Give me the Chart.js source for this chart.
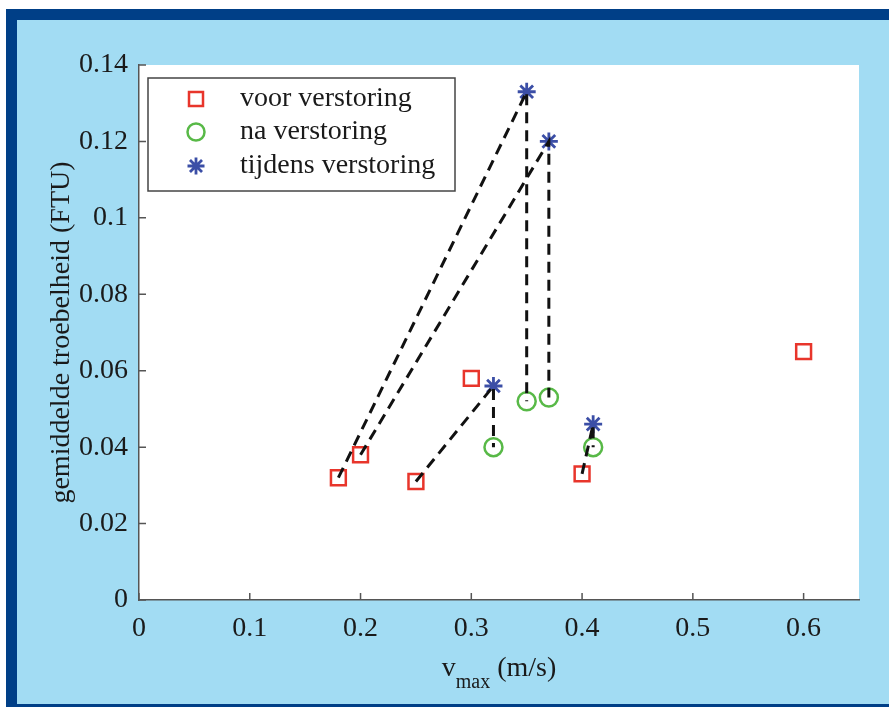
<!DOCTYPE html>
<html>
<head>
<meta charset="utf-8">
<script src="https://cdn.jsdelivr.net/npm/chart.js@4"></script>
<style>
  html, body { margin: 0; padding: 0; background: #fff; }
  #frame {
    position: absolute; left: 6px; top: 9px; width: 872px; height: 684px;
    background: #a2dcf3;
    border-left: 11px solid #003f87; border-top: 11px solid #003f87; border-bottom: 3px solid #003f87;
  }
  #chart { position: absolute; left: 0; top: 0; }
</style>
</head>
<body>
<div id="frame"></div>
<canvas id="chart" width="889" height="707"></canvas>
<script>
const voorX = [0.18, 0.20, 0.25, 0.30, 0.40, 0.60];
const voorY = [0.032, 0.038, 0.031, 0.058, 0.033, 0.065];
const naX = [0.32, 0.35, 0.37, 0.41];
const naY = [0.040, 0.052, 0.053, 0.040];
const tijdensX = [0.35, 0.37, 0.32, 0.41];
const tijdensY = [0.133, 0.120, 0.056, 0.046];

// dashed connections: voor -> tijdens -> na (indexes into the arrays above)
const linkVoor = [0, 1, 2, 4];
const linkTijdens = [0, 1, 2, 3];
const linkNa = [1, 2, 0, 3];

const xTicks = [0, 0.1, 0.2, 0.3, 0.4, 0.5, 0.6];
const yTicks = [0, 0.02, 0.04, 0.06, 0.08, 0.1, 0.12, 0.14];
const seriesNames = ['voor verstoring', 'na verstoring', 'tijdens verstoring'];

const RED = '#e8352b';
const GREEN = '#58b947';
const BLUE = '#3b4ea6';
const AXIS = '#555555';
const TEXT = '#1a1a1a';
const FONT = '"Liberation Serif", "Times New Roman", serif';

const toPoints = (xs, ys) => xs.map((x, i) => ({ x: x, y: ys[i] }));

const linkSets = linkVoor.map((v, i) => ({
  type: 'line',
  data: [
    { x: voorX[v], y: voorY[v] },
    { x: tijdensX[linkTijdens[i]], y: tijdensY[linkTijdens[i]] },
    { x: naX[linkNa[i]], y: naY[linkNa[i]] }
  ],
  borderColor: '#111',
  borderWidth: 3,
  borderDash: [11, 7],
  pointRadius: 0,
  fill: false,
  tension: 0,
  order: 0
}));

// white plot area, inward ticks, legend and the x title with subscript
const decorPlugin = {
  id: 'decor',
  beforeDraw(chart) {
    const { ctx, chartArea: a } = chart;
    ctx.save();
    ctx.fillStyle = '#fff';
    ctx.fillRect(a.left, a.top, a.right - a.left, a.bottom - a.top);
    ctx.restore();
  },
  afterDraw(chart) {
    const { ctx, chartArea: a, scales } = chart;
    ctx.save();
    ctx.strokeStyle = AXIS;
    ctx.lineWidth = 1.5;
    ctx.beginPath();
    xTicks.forEach(v => {
      const px = scales.x.getPixelForValue(v);
      ctx.moveTo(px, a.bottom);
      ctx.lineTo(px, a.bottom - 7);
    });
    yTicks.forEach(v => {
      const py = scales.y.getPixelForValue(v);
      ctx.moveTo(a.left, py);
      ctx.lineTo(a.left + 7, py);
    });
    ctx.stroke();

    // legend box
    const lx = a.left + 9, ly = a.top + 13, lw = 307, lh = 113;
    ctx.fillStyle = '#fff';
    ctx.fillRect(lx, ly, lw, lh);
    ctx.strokeStyle = '#444';
    ctx.lineWidth = 1.5;
    ctx.strokeRect(lx, ly, lw, lh);
    const rows = [ly + 21, ly + 54, ly + 88];
    const mx = lx + 48;
    // square
    ctx.strokeStyle = RED; ctx.lineWidth = 2.5;
    ctx.strokeRect(mx - 7, rows[0] - 7, 14, 14);
    // circle
    ctx.strokeStyle = GREEN;
    ctx.beginPath(); ctx.arc(mx, rows[1], 8.5, 0, Math.PI * 2); ctx.stroke();
    // star
    ctx.strokeStyle = BLUE; ctx.lineWidth = 2.8;
    ctx.beginPath();
    for (let k = 0; k < 4; k++) {
      const ang = k * Math.PI / 4;
      ctx.moveTo(mx - 8.5 * Math.cos(ang), rows[2] - 8.5 * Math.sin(ang));
      ctx.lineTo(mx + 8.5 * Math.cos(ang), rows[2] + 8.5 * Math.sin(ang));
    }
    ctx.stroke();
    ctx.fillStyle = TEXT;
    ctx.font = '28px ' + FONT;
    ctx.textBaseline = 'middle';
    ctx.textAlign = 'left';
    seriesNames.forEach((n, i) => ctx.fillText(n, lx + 92, rows[i]));

    // x axis title: v_max (m/s)
    const cx = (a.left + a.right) / 2;
    const base = 676;
    ctx.textBaseline = 'alphabetic';
    ctx.font = '28px ' + FONT;
    const wV = ctx.measureText('v').width;
    const wU = ctx.measureText(' (m/s)').width;
    ctx.font = '20px ' + FONT;
    const wS = ctx.measureText('max').width;
    let x0 = cx - (wV + wS + wU) / 2;
    ctx.font = '28px ' + FONT;
    ctx.fillText('v', x0, base);
    ctx.font = '20px ' + FONT;
    ctx.fillText('max', x0 + wV, base + 12);
    ctx.font = '28px ' + FONT;
    ctx.fillText(' (m/s)', x0 + wV + wS, base);
    ctx.restore();
  }
};

new Chart(document.getElementById('chart'), {
  type: 'scatter',
  data: {
    datasets: [
      ...linkSets,
      {
        label: seriesNames[0],
        data: toPoints(voorX, voorY),
        pointStyle: 'rect',
        pointRadius: 10.5,
        borderColor: RED,
        backgroundColor: 'rgba(0,0,0,0)',
        pointBorderWidth: 2.5,
        order: 1
      },
      {
        label: seriesNames[1],
        data: toPoints(naX, naY),
        pointStyle: 'circle',
        pointRadius: 9,
        borderColor: GREEN,
        backgroundColor: 'rgba(0,0,0,0)',
        pointBorderWidth: 2.5,
        order: 1
      },
      {
        label: seriesNames[2],
        data: toPoints(tijdensX, tijdensY),
        pointStyle: 'star',
        pointRadius: 9,
        borderColor: BLUE,
        backgroundColor: BLUE,
        pointBorderWidth: 2.8,
        order: 1
      }
    ]
  },
  options: {
    responsive: false,
    animation: false,
    devicePixelRatio: 1,
    layout: { padding: { left: 0, top: 65, right: 30, bottom: 0 } },
    plugins: { legend: { display: false }, tooltip: { enabled: false } },
    scales: {
      x: {
        type: 'linear',
        min: 0,
        max: 0.65,
        afterFit(scale) { scale.height = 107; },
        afterBuildTicks(scale) { scale.ticks = xTicks.map(v => ({ value: v })); },
        grid: { display: false, drawTicks: false },
        border: { display: true, color: AXIS, width: 1.5 },
        ticks: {
          padding: 12,
          color: TEXT,
          font: { family: FONT, size: 28 },
          callback: v => String(Math.round(v * 10) / 10)
        }
      },
      y: {
        type: 'linear',
        min: 0,
        max: 0.14,
        afterFit(scale) { scale.width = 139; },
        afterBuildTicks(scale) { scale.ticks = yTicks.map(v => ({ value: v })); },
        grid: { display: false, drawTicks: false },
        border: { display: true, color: AXIS, width: 1.5 },
        title: {
          display: true,
          text: 'gemiddelde troebelheid (FTU)',
          color: TEXT,
          font: { family: FONT, size: 28 },
          padding: { top: 45, bottom: 0 }
        },
        ticks: {
          padding: 11,
          color: TEXT,
          font: { family: FONT, size: 28 },
          callback: v => String(Math.round(v * 100) / 100)
        }
      }
    }
  },
  plugins: [decorPlugin]
});
</script>
</body>
</html>
